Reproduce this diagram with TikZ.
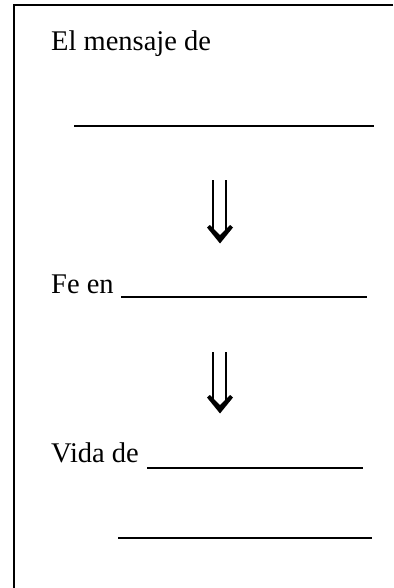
\documentclass[tikz,border=0pt]{standalone}
\usepackage{fontspec}
\setmainfont{Liberation Serif}
\begin{document}
\begin{tikzpicture}[x=1pt,y=-1pt,
  lbl/.style={anchor=base west,inner sep=0pt,font=\fontsize{28.5}{34}\selectfont},
  rule/.style={line width=2pt},
  frame/.style={line width=2.2pt},
  shaft/.style={line width=2pt},
  head/.style={fill=black,draw=none}]
\useasboundingbox (0,0) rectangle (393,588);
% frame (only top and left edges visible)
\coordinate (ftr) at (393,4.7);
\coordinate (ftl) at (14,4.7);
\coordinate (fbl) at (14,588);
\draw[frame] (ftr) -- (ftl) -- (fbl);
% texts
\node[lbl] (msg) at (51,51) {El mensaje de};
\node[lbl] (fe) at (51,293) {Fe en};
\node[lbl] (vida) at (51,462) {Vida de};
% blanks
\coordinate (b1a) at (74,125.7);  \coordinate (b1b) at (374,125.7);
\coordinate (b2a) at (121,297);   \coordinate (b2b) at (367,297);
\coordinate (b3a) at (147,467.7); \coordinate (b3b) at (363,467.7);
\coordinate (b4a) at (118,537.7); \coordinate (b4b) at (372,537.7);
\draw[rule] (b1a) -- (b1b);
\draw[rule] (b2a) -- (b2b);
\draw[rule] (b3a) -- (b3b);
\draw[rule] (b4a) -- (b4b);
% arrows (double, downward)
\foreach \t/\b in {180/243.5, 352/413.5}{
  \draw[shaft] (213,\t) -- (213,\b-10);
  \draw[shaft] (226,\t) -- (226,\b-10);
  \fill[head] (220,\b) -- (207,\b-16) -- (209.8,\b-18.5) -- (220,\b-8.5)
     -- (230.2,\b-18.5) -- (233,\b-16) -- cycle;
}
\end{tikzpicture}
\end{document}
